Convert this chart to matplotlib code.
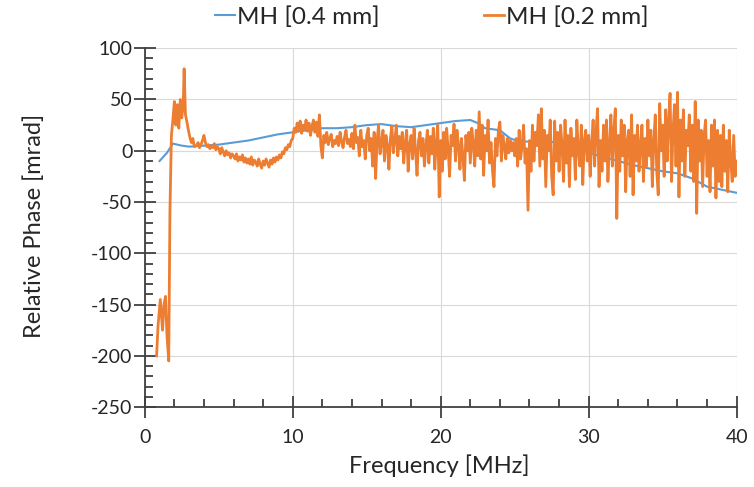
import numpy as np
import matplotlib.pyplot as plt
from matplotlib.ticker import MultipleLocator

# MH [0.4 mm] - smooth curve
freq_04 = [1.0, 1.5, 1.9, 2.5, 3, 4, 5, 6, 7, 8, 9, 10, 11, 12, 13, 14, 15, 16, 17, 18,
           19, 20, 21, 22, 22.5, 23, 24, 24.7, 25.3, 26, 27, 28, 29, 30, 31, 32, 33, 34,
           35, 36, 37, 38, 39, 40]
phase_04 = [-10, -2, 7, 5, 4, 5, 6, 8, 10, 13, 16, 18, 20, 22, 22, 23, 25, 26, 24, 23,
            25, 27, 29, 30, 27, 22, 20, 12, 9, 9, 9, 8, 4, -2, -6, -10, -14, -17,
            -20, -22, -27, -35, -38, -41]

# MH [0.2 mm] - low frequency part (uneven sampling)
freq_02_low = [0.8, 0.9, 1.05, 1.2, 1.3, 1.4, 1.5, 1.62, 1.7, 1.8, 1.9, 2.0, 2.1, 2.2,
               2.3, 2.4, 2.5, 2.6, 2.66, 2.75, 2.85, 2.95, 3.05, 3.15, 3.25, 3.35]
phase_02_low = [-200, -170, -145, -175, -150, -142, -180, -205, -60, 15, 30, 48, 25,
                45, 22, 50, 32, 45, 80, 35, 28, 20, 13, 8, 12, 4]

# MH [0.2 mm] - 3.5 to 40 MHz, 0.1 MHz steps
phase_02_high = [
    5, 8, 3, 6, 10,
    15, 8, 4, 6, 2, 5, 3, 7, 1, 4,
    2, -3, 3, -1, -5, 0, -4, -2, -7, -3,
    -5, -8, -3, -10, -6, -9, -4, -11, -7, -12,
    -8, -13, -6, -14, -9, -11, -15, -8, -13, -17,
    -10, -14, -8, -12, -16, -9, -13, -7, -11, -6,
    -9, -4, -7, -1, -3, 3, 1, 6, 4, 10,
    12, 22, 18, 27, 20, 29, 17, 25, 21, 30,
    19, 27, 15, 24, 30, 18, 28, 14, 35, 5,
    -7, 15, 8, 18, 6, 12, 16, 4, 10, 7,
    14, 5, 18, 9, 3, 13, 20, 7, 11, 4,
    17, 2, 25, 8, 13, -5, 20, 4, 10, -8,
    15, 22, 0, 12, -15, 18, -27, 10, 25, -3,
    8, 20, -10, 15, 5, -18, 12, 24, -2, 10,
    25, -5, 14, 2, 18, -12, 8, 20, -20, 6,
    15, -8, 22, 0, -24, 10, 18, -5, 12, -15,
    5, 20, -12, 14, -3, 22, -18, 8, 25, -45,
    10, -20, 18, -8, 22, 2, -25, 15, 5, 26,
    -10, 20, 5, -18, 12, -5, -29, 15, 0, 18,
    -12, 22, 8, -15, 20, -5, 38, -8, 25, -24,
    15, 0, 30, -12, 8, -20, -35, 12, -5, 20,
    28, -10, 15, 5, -8, 12, -2, 10, 0, 8,
    -5, 12, -15, 20, -8, 5, 25, -12, 2, -58,
    10, -20, 25, -10, 18, 5, 35, -15, 41, -8,
    20, -35, 15, 0, 30, -25, -43, 29, -10, 18,
    -20, 25, 5, -30, 30, -12, 15, -35, 22, -5,
    12, -28, 30, 0, -15, 25, -33, 10, 20, -10,
    15, -25, 8, 30, -15, 20, 41, -35, 10, -20,
    25, -10, 30, -30, 5, 35, -15, 20, 41, -66,
    15, -20, 30, -5, 25, -40, 10, 20, -25, 35,
    -43, 15, -10, 25, -20, 5, 25, -30, 12, -15,
    30, -5, 20, -35, 10, 35, -20, -43, 46, 0,
    25, -25, 40, -10, 30, 56, -30, 20, 45, -15,
    57, -45, 30, -10, 40, -25, 20, 5, 35, -20,
    25, -30, 48, -61, 30, -10, 20, -35, 15, 30,
    -25, 10, -40, 25, -15, 30, -46, 20, -30, 15,
    -35, 25, -20, 10, -40, 20, -10, -30, 15, -25,
    -10,
]
freq_02_high = np.round(np.arange(len(phase_02_high)) * 0.1 + 3.5, 2)

freq_02 = np.concatenate([freq_02_low, freq_02_high])
phase_02 = np.concatenate([phase_02_low, phase_02_high])

plt.rcParams['font.family'] = ['Lato', 'DejaVu Sans']
plt.rcParams['axes.unicode_minus'] = False
txt = '#262626'
axcol = '#404040'

fig = plt.figure(figsize=(7.54, 4.87), dpi=100)
ax = fig.add_axes([0.192, 0.164, 0.785, 0.737])

ax.plot(freq_04, phase_04, color='#5B9BD5', lw=1.5, label='MH [0.4 mm]')
ax.plot(freq_02, phase_02, color='#ED7D31', lw=2.0, label='MH [0.2 mm]')

ax.set_xlim(0, 40)
ax.set_ylim(-250, 100)
ax.xaxis.set_major_locator(MultipleLocator(10))
ax.xaxis.set_minor_locator(MultipleLocator(2))
ax.yaxis.set_major_locator(MultipleLocator(50))
ax.yaxis.set_minor_locator(MultipleLocator(10))

ax.grid(True, which='major', color='#d9d9d9', lw=0.8)
ax.set_axisbelow(True)
for s in ['top', 'right']:
    ax.spines[s].set_visible(False)
for s in ['left', 'bottom']:
    ax.spines[s].set_color(axcol)
    ax.spines[s].set_linewidth(1.3)

ax.tick_params(which='major', direction='inout', length=16, width=1.3,
               color=axcol, labelsize=14, labelcolor=txt)
ax.tick_params(axis='x', which='major', pad=8)
ax.tick_params(axis='y', which='major', pad=1)
ax.tick_params(which='minor', direction='in', length=6, width=1.3, color=axcol,
               left=True, bottom=True)
for t in ax.xaxis.get_minor_ticks() + ax.yaxis.get_minor_ticks():
    t.tick1line.set_visible(True)
    t.tick1line.set_zorder(3)

ax.set_xlabel('Frequency [MHz]', fontsize=17, color=txt, va='center')
ax.set_ylabel('Relative Phase [mrad]', fontsize=17, color=txt, va='center')
ax.xaxis.set_label_coords(0.498, -0.162)
ax.yaxis.set_label_coords(-0.186, 0.504)

fig.legend(*ax.get_legend_handles_labels(), loc='center',
           bbox_to_anchor=(432 / 754, 1 - 17 / 487), ncol=2, frameon=False,
           fontsize=17.5, handlelength=0.8, handletextpad=0.1, columnspacing=4.3,
           labelcolor=txt)

fig.savefig('out.png', dpi=100)
